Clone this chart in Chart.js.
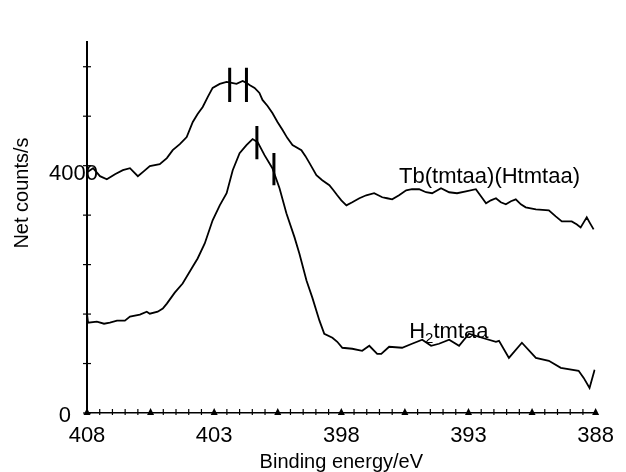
<!DOCTYPE html>
<html>
<head>
<meta charset="utf-8">
<script src="https://cdn.jsdelivr.net/npm/chart.js@4/dist/chart.umd.min.js"></script>
<style>
  html, body { margin: 0; padding: 0; background: #fff; }
  #wrap { width: 626px; height: 472px; }
</style>
</head>
<body>
<div id="wrap"><canvas id="c" width="626" height="472"></canvas></div>
<script>
// ---- data ----
const tbEnergy = [408.00,407.76,407.49,407.22,406.90,406.59,406.31,406.00,405.76,405.53,405.14,404.86,404.63,404.35,404.08,403.84,403.65,403.45,403.25,403.06,402.78,402.51,402.31,402.12,401.88,401.73,401.61,401.41,401.22,401.10,400.90,400.71,400.51,400.31,400.12,399.92,399.57,399.41,399.25,398.98,398.75,398.47,398.31,398.16,398.00,397.80,397.57,397.29,397.02,396.71,396.39,396.20,396.00,395.73,395.45,395.22,394.94,394.67,394.43,394.08,393.76,393.45,393.10,392.71,392.51,392.31,392.12,391.92,391.73,391.53,391.33,391.14,390.94,390.75,390.35,389.84,389.57,389.33,388.94,388.75,388.59,388.47,388.35,388.24,388.08];
const tbCounts = [3894,3959,3830,3781,3862,3927,3959,3830,3911,3992,4024,4122,4251,4349,4462,4706,4836,4949,5112,5258,5322,5355,5339,5322,5371,5339,5306,5258,5176,5063,4965,4852,4706,4576,4446,4333,4251,4154,4041,3846,3765,3684,3602,3521,3440,3359,3408,3473,3521,3554,3489,3473,3456,3521,3602,3619,3619,3570,3554,3635,3570,3554,3586,3619,3505,3391,3440,3473,3408,3375,3424,3456,3375,3327,3294,3278,3180,3099,3099,3051,3002,3083,3164,3083,2970];

const h2Energy = [408.00,407.96,407.61,407.33,407.10,406.82,406.51,406.31,405.92,405.65,405.53,405.22,405.02,404.86,404.55,404.24,403.84,403.65,403.37,403.06,402.78,402.51,402.27,402.00,401.73,401.49,401.29,401.02,400.71,400.43,400.16,399.84,399.65,399.37,399.14,398.86,398.67,398.35,398.16,397.96,397.57,397.18,396.90,396.59,396.43,396.12,395.61,395.22,394.82,394.47,394.16,393.76,393.37,392.98,392.47,391.92,391.80,391.41,390.90,390.35,389.84,389.37,388.67,388.47,388.24,388.04];
const h2Counts = [1606,1460,1477,1444,1460,1493,1493,1558,1590,1639,1606,1639,1688,1769,1947,2093,2369,2499,2742,3116,3359,3554,3927,4203,4333,4430,4381,4170,3959,3635,3229,2840,2580,2142,1866,1493,1282,1217,1152,1055,1039,1006,1087,957,957,1071,1055,1120,1185,1087,1120,1185,1087,1282,1217,1152,1168,892,1136,892,844,730,682,568,406,698];

// peak position markers (energy, lower count, upper count)
const markerEnergy = [402.39, 401.73, 401.32, 400.65];
const markerLow    = [5030, 5030, 4105, 3684];
const markerHigh   = [5582, 5582, 4641, 4203];

const seriesNames = ['Tb(tmtaa)(Htmtaa)', 'H2tmtaa'];
const xLabelValues = [408, 403, 398, 393, 388];
const xTickLabels  = ['408', '403', '398', '393', '388'];
const yTickValues  = [0, 800, 1600, 2400, 3200, 4000, 4800, 5600];
const yLabelValues = [0, 4000];
const yTickLabels  = ['0', '4000'];
const xTitle = 'Binding energy/eV';
const yTitle = 'Net counts/s';

// ---- build datasets ----
const FONT = '"Liberation Sans", Arial, Helvetica, sans-serif';
const toPts = (xs, ys) => xs.map((v, i) => ({ x: v, y: ys[i] }));
const datasets = [
  { label: seriesNames[0], data: toPts(tbEnergy, tbCounts), borderColor: '#000', borderWidth: 1.8, pointRadius: 0, tension: 0 },
  { label: seriesNames[1], data: toPts(h2Energy, h2Counts), borderColor: '#000', borderWidth: 1.8, pointRadius: 0, tension: 0 }
];
markerEnergy.forEach((e, i) => {
  datasets.push({ label: 'marker' + i, data: [{ x: e, y: markerLow[i] }, { x: e, y: markerHigh[i] }],
    borderColor: '#000', borderWidth: 3, pointRadius: 0 });
});

const deco = {
  id: 'deco',
  afterDraw(chart) {
    const { ctx, scales: { x, y } } = chart;
    ctx.save();
    ctx.strokeStyle = '#000';
    ctx.fillStyle = '#000';
    const yAxis = y.getPixelForValue(0);
    const xAxis = x.getPixelForValue(408);
    // x tick marks and triangles
    ctx.lineWidth = 1.2;
    x.ticks.forEach(t => {
      const px = x.getPixelForValue(t.value);
      const k = (408 - t.value) / 2.5;
      if (Math.abs(k - Math.round(k)) < 1e-6) {
        ctx.beginPath();
        ctx.moveTo(px - 3.5, yAxis + 2);
        ctx.lineTo(px + 3.5, yAxis + 2);
        ctx.lineTo(px, yAxis - 5);
        ctx.closePath();
        ctx.fill();
      } else {
        ctx.beginPath();
        ctx.moveTo(px, yAxis - 4);
        ctx.lineTo(px, yAxis + 2);
        ctx.stroke();
      }
    });
    // y tick marks
    y.ticks.forEach(t => {
      const py = y.getPixelForValue(t.value);
      ctx.beginPath();
      ctx.moveTo(xAxis - 4, py);
      ctx.lineTo(xAxis + 4, py);
      ctx.stroke();
    });
    // y tick labels
    ctx.font = '22px ' + FONT;
    ctx.textAlign = 'right';
    ctx.textBaseline = 'alphabetic';
    const yLabelOffsets = [[-16, 9], [11, 14]];
    yLabelValues.forEach((v, i) => {
      const py = y.getPixelForValue(v);
      ctx.fillText(yTickLabels[i], xAxis + yLabelOffsets[i][0], py + yLabelOffsets[i][1]);
    });
    // y title
    ctx.save();
    ctx.translate(22, 193);
    ctx.rotate(-Math.PI / 2);
    ctx.font = '20px ' + FONT;
    ctx.textAlign = 'center';
    ctx.textBaseline = 'middle';
    ctx.fillText(yTitle, 0, 0);
    ctx.restore();
    // series labels
    ctx.font = '22px ' + FONT;
    ctx.textAlign = 'left';
    ctx.textBaseline = 'alphabetic';
    ctx.fillText(seriesNames[0], x.getPixelForValue(395.73), y.getPixelForValue(3716));
    let lx = x.getPixelForValue(395.33);
    const ly = y.getPixelForValue(1217);
    ctx.fillText('H', lx, ly);
    lx += ctx.measureText('H').width;
    ctx.font = '15px ' + FONT;
    ctx.fillText('2', lx, ly + 5);
    lx += ctx.measureText('2').width;
    ctx.font = '22px ' + FONT;
    ctx.fillText('tmtaa', lx, ly);
    ctx.restore();
  }
};

new Chart(document.getElementById('c'), {
  type: 'line',
  data: { datasets },
  plugins: [deco],
  options: {
    responsive: false,
    animation: false,
    events: [],
    layout: { padding: { left: 87, right: 29, top: 42, bottom: 0 } },
    plugins: { legend: { display: false }, tooltip: { enabled: false } },
    elements: { point: { radius: 0 }, line: { tension: 0 } },
    scales: {
      x: {
        type: 'linear', reverse: true, min: 388, max: 408,
        grid: { display: false, drawTicks: false },
        border: { display: true, color: '#000', width: 1.5 },
        ticks: {
          stepSize: 0.5, autoSkip: false, maxRotation: 0, minRotation: 0, padding: 12,
          color: '#000', font: { size: 22, family: FONT, lineHeight: 1.0 },
          callback: (v) => {
            const i = xLabelValues.findIndex(l => Math.abs(l - v) < 1e-6);
            return i >= 0 ? xTickLabels[i] : '';
          }
        },
        title: { display: true, text: xTitle, color: '#000', font: { size: 20, family: FONT, lineHeight: 1.0 }, padding: { top: -7, bottom: 0 } }
      },
      y: {
        type: 'linear', min: 0, max: 6000,
        grid: { display: false, drawTicks: false },
        border: { display: true, color: '#000', width: 2 },
        ticks: { display: false },
        afterBuildTicks: (scale) => { scale.ticks = yTickValues.map(v => ({ value: v })); }
      }
    }
  }
});
</script>
</body>
</html>
